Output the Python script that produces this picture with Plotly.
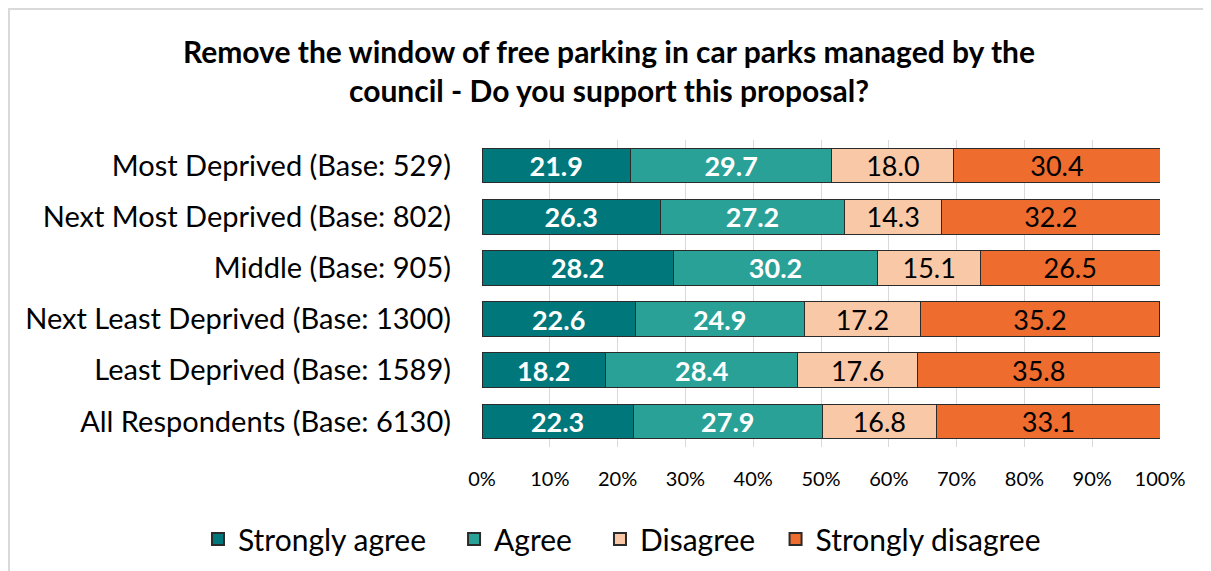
import plotly.graph_objects as go

categories = [
    "Most Deprived (Base: 529)",
    "Next Most Deprived (Base: 802)",
    "Middle (Base: 905)",
    "Next Least Deprived (Base: 1300)",
    "Least Deprived (Base: 1589)",
    "All Respondents (Base: 6130)",
]
strongly_agree = [21.9, 26.3, 28.2, 22.6, 18.2, 22.3]
agree = [29.7, 27.2, 30.2, 24.9, 28.4, 27.9]
disagree = [18.0, 14.3, 15.1, 17.2, 17.6, 16.8]
strongly_disagree = [30.4, 32.2, 26.5, 35.2, 35.8, 33.1]
series_names = ["Strongly agree", "Agree", "Disagree", "Strongly disagree"]
tick_vals = [0, 10, 20, 30, 40, 50, 60, 70, 80, 90, 100]
tick_text = [f"{v}%" for v in tick_vals]

colors = ["#00777A", "#2AA197", "#F9C9A7", "#EE6C2D"]
text_colors = ["white", "white", "black", "black"]
text_weights = ["bold", "bold", "normal", "normal"]
values = [strongly_agree, agree, disagree, strongly_disagree]
legend_pad = [3, 3, 2, 0]  # extra spacing (non-breaking spaces) after legend entries

FONT = "Lato"
fig = go.Figure()
for i, name in enumerate(series_names):
    vals = values[i]
    fig.add_trace(go.Bar(
        name=name + "\u00a0" * legend_pad[i],
        y=categories, x=vals, orientation="h",
        marker=dict(color=colors[i], line=dict(color="#2b2b2b", width=1)),
        text=[f"{v:.1f}" for v in vals], textposition="inside",
        insidetextanchor="middle",
        textfont=dict(family=FONT, size=27, color=text_colors[i], weight=text_weights[i]),
        constraintext="none",
    ))

# page body has an 8px offset; compensate so the picture lands where the reference is
OFF = 8
W, H = 1211, 571
L, R, T, B = 482 - OFF, 51 + OFF, 140 - OFF, 124 + OFF
pw = W - L - R
ph = H - T - B

def px_x(x):
    return (x - OFF - L) / pw

def px_y(y):
    return (H - B - (y - OFF)) / ph

fig.update_layout(
    width=W, height=H, barmode="stack", bargap=0.32,
    margin=dict(l=L, r=R, t=T, b=B),
    paper_bgcolor="white", plot_bgcolor="white",
    font=dict(family=FONT, color="black"),
    title=dict(
        text="<b>Remove the window of free parking in car parks managed by the<br>council - Do you support this proposal?</b>",
        x=(609 - OFF) / W, xref="container", xanchor="center",
        y=1 - (63 - OFF) / H, yref="container", yanchor="middle",
        font=dict(family=FONT, size=30, color="black"),
    ),
    legend=dict(
        orientation="h", xref="paper", x=px_x(198), xanchor="left",
        yref="paper", y=px_y(539), yanchor="middle",
        font=dict(family=FONT, size=30, color="black"),
        traceorder="normal", itemsizing="constant",
    ),
    showlegend=True,
    uniformtext=dict(mode=False),
)
fig.update_xaxes(
    range=[0, 100], tickvals=tick_vals, ticktext=tick_text,
    showgrid=True, gridcolor="#D9D9D9", gridwidth=1,
    zeroline=False, showline=False,
    tickfont=dict(family=FONT, size=20, color="black"),
    ticks="", ticklabelstandoff=18,
)
fig.update_yaxes(
    autorange="reversed", showgrid=False, showline=False,
    tickfont=dict(family=FONT, size=29, color="black"),
    ticks="", ticklabelstandoff=30,
)

fig.add_shape(type="rect", xref="paper", yref="paper",
              x0=px_x(9), x1=px_x(W + 20), y0=px_y(H + 20), y1=px_y(9),
              line=dict(color="#D9D9D9", width=2), fillcolor="rgba(0,0,0,0)",
              layer="below")

fig.write_html("out.html")
